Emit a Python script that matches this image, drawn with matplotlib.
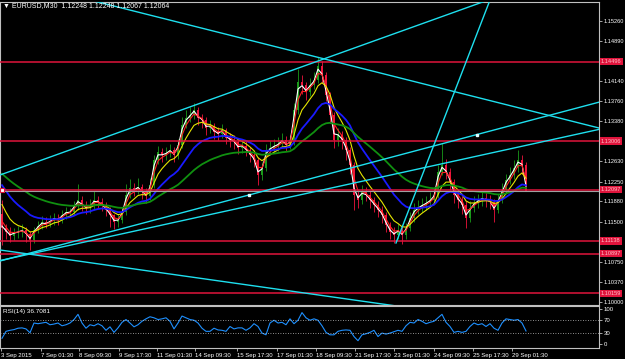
import numpy as np
import pandas as pd
import matplotlib
matplotlib.use('Agg')
import matplotlib.pyplot as plt
import matplotlib.transforms as mtransforms

first_open = 1.1165
closes = [
    1.1138, 1.1131, 1.1123, 1.1129, 1.1131, 1.1134, 1.1127, 1.1116, 1.1134, 1.1142,
    1.1149, 1.1146, 1.1151, 1.1157, 1.1153, 1.1162, 1.1168, 1.1168, 1.1179, 1.1190,
    1.1181, 1.1175, 1.1179, 1.1190, 1.1187, 1.1181, 1.1172, 1.1162, 1.1149, 1.1153,
    1.1168, 1.1200, 1.1213, 1.1209, 1.1215, 1.1205, 1.1198, 1.1218, 1.1265, 1.1280,
    1.1275, 1.1278, 1.1284, 1.1275, 1.1293, 1.1331, 1.1344, 1.1350, 1.1359, 1.1344,
    1.1340, 1.1325, 1.1329, 1.1318, 1.1314, 1.1321, 1.1307, 1.1303, 1.1299, 1.1288,
    1.1292, 1.1284, 1.1275, 1.1265, 1.1237, 1.1250, 1.1284, 1.1288, 1.1292, 1.1295,
    1.1303, 1.1293, 1.1299, 1.1359, 1.1411, 1.1406, 1.1393, 1.1406, 1.1415, 1.1441,
    1.1424, 1.1387, 1.1350, 1.1303, 1.1312, 1.1303, 1.1284, 1.1256, 1.1200, 1.1190,
    1.1205, 1.1200, 1.1190, 1.1181, 1.1172, 1.1162, 1.1144, 1.1131, 1.1125, 1.1134,
    1.1125, 1.1138, 1.1157, 1.1172, 1.1177, 1.1181, 1.1185, 1.1190, 1.1200, 1.1243,
    1.1256, 1.1243, 1.1224, 1.1200, 1.1190, 1.1181, 1.1157, 1.1175, 1.1185, 1.1190,
    1.1194, 1.1190, 1.1187, 1.1172, 1.1190, 1.1209, 1.1228, 1.1237, 1.1250, 1.1265,
    1.1256, 1.12064]
highs = [
    1.1190, 1.1145, 1.1140, 1.1138, 1.1142, 1.1146, 1.1140, 1.1132, 1.1140, 1.1152,
    1.1160, 1.1158, 1.1162, 1.1166, 1.1165, 1.1172, 1.1178, 1.1176, 1.1188, 1.1220,
    1.1198, 1.1188, 1.1192, 1.1208, 1.1198, 1.1195, 1.1186, 1.1178, 1.1165, 1.1164,
    1.1178, 1.1220, 1.1230, 1.1222, 1.1232, 1.1220, 1.1212, 1.1232, 1.1275, 1.1292,
    1.1288, 1.1290, 1.1296, 1.1290, 1.1305, 1.1345, 1.1358, 1.1365, 1.1372, 1.1364,
    1.1352, 1.1345, 1.1340, 1.1335, 1.1328, 1.1332, 1.1326, 1.1316, 1.1312, 1.1306,
    1.1304, 1.1300, 1.1290, 1.1282, 1.1270, 1.1262, 1.1295, 1.1300, 1.1305, 1.1308,
    1.1315, 1.1310, 1.1312, 1.1372, 1.1435, 1.1425, 1.1412, 1.1418, 1.1430, 1.1458,
    1.1450, 1.1430, 1.1392, 1.1355, 1.1325, 1.1320, 1.1308, 1.1290, 1.1262, 1.1210,
    1.1218, 1.1215, 1.1208, 1.1196, 1.1188, 1.1180, 1.1168, 1.1150, 1.1140, 1.1145,
    1.1142, 1.1148, 1.1168, 1.1185, 1.1190, 1.1195, 1.1198, 1.1205, 1.1215, 1.1255,
    1.1297, 1.1268, 1.1250, 1.1230, 1.1208, 1.1198, 1.1188, 1.1188, 1.1198, 1.1202,
    1.1206, 1.1204, 1.1200, 1.1192, 1.1202, 1.1222, 1.1240, 1.1252, 1.1265, 1.1284,
    1.1275, 1.1262]
lows = [
    1.1106, 1.1118, 1.1112, 1.1115, 1.1120, 1.1122, 1.1112, 1.1097, 1.1110, 1.1128,
    1.1136, 1.1138, 1.1140, 1.1144, 1.1143, 1.1148, 1.1155, 1.1158, 1.1162, 1.1172,
    1.1170, 1.1164, 1.1166, 1.1172, 1.1176, 1.1170, 1.1160, 1.1140, 1.1136, 1.1140,
    1.1148, 1.1162, 1.1195, 1.1198, 1.1202, 1.1192, 1.1185, 1.1190, 1.1212, 1.1258,
    1.1262, 1.1266, 1.1270, 1.1262, 1.1268, 1.1288, 1.1325, 1.1336, 1.1342, 1.1330,
    1.1326, 1.1312, 1.1316, 1.1305, 1.1302, 1.1306, 1.1295, 1.1290, 1.1286, 1.1276,
    1.1278, 1.1272, 1.1262, 1.1252, 1.1218, 1.1228, 1.1245, 1.1275, 1.1280, 1.1282,
    1.1290, 1.1282, 1.1285, 1.1294, 1.1352, 1.1388, 1.1378, 1.1385, 1.1398, 1.1410,
    1.1410, 1.1375, 1.1335, 1.1288, 1.1292, 1.1285, 1.1265, 1.1240, 1.1172, 1.1175,
    1.1182, 1.1188, 1.1176, 1.1168, 1.1158, 1.1148, 1.1130, 1.1118, 1.1110, 1.1118,
    1.1108, 1.1118, 1.1132, 1.1150, 1.1165, 1.1168, 1.1172, 1.1178, 1.1185, 1.1195,
    1.1238, 1.1230, 1.1210, 1.1185, 1.1175, 1.1165, 1.1138, 1.1150, 1.1168, 1.1176,
    1.1180, 1.1178, 1.1174, 1.1149, 1.1166, 1.1185, 1.1202, 1.1220, 1.1230, 1.1242,
    1.1240, 1.12067]
# closes before the visible window, only used to seed the moving averages
prior_closes = [1.1262, 1.1255, 1.1240, 1.1200, 1.1170, 1.1150]

# RSI(14)
rsi = [
    16, 36, 39, 41, 45, 46, 43, 32, 60, 58, 60, 62, 55, 57, 60, 52, 55, 60, 70, 85,
    60, 45, 55, 52, 58, 52, 39, 49, 33, 46, 62, 70, 60, 49, 55, 65, 72, 78, 75, 70,
    72, 75, 65, 43, 60, 80, 75, 70, 68, 60, 45, 36, 36, 45, 40, 39, 36, 50, 43, 46,
    46, 39, 46, 58, 50, 31, 26, 60, 68, 60, 62, 55, 72, 58, 68, 90, 75, 68, 72, 68,
    52, 33, 26, 26, 36, 39, 40, 39, 21, 9, 26, 29, 33, 39, 21, 31, 28, 31, 35, 39,
    36, 52, 62, 60, 70, 65, 58, 62, 65, 75, 85, 62, 50, 33, 36, 33, 36, 50, 60, 55,
    58, 50, 58, 45, 39, 60, 72, 70, 68, 70, 60, 37]

# moving averages (EMA spans in candle units of this chart)
ma_spans = [1.5, 2.5, 6, 15, 33]
ma_colors = ['#ffffff', '#ff2020', '#e6e600', '#1a1aff', '#109010']
ma_widths = [0.8, 0.8, 0.8, 1.3, 1.3]

# horizontal levels
levels = [1.14496, 1.13006, 1.12097, 1.11138, 1.10897, 1.10159]
bid = 1.12064

# trendlines: (x0, p0, x1, p1, extend_back)
trend_lines = [
    (22.0, 1.15648, 149.25, 1.13252, True),
    (-0.5, 1.12372, 79.0, 1.14506, True),
    (61.75, 1.11998, 118.75, 1.13130, True),
    (-0.5, 1.10770, 149.25, 1.13226, True),
    (-0.5, 1.10968, 93.25, 1.09976, True),
    (98.5, 1.11099, 122.0, 1.15648, False),
]
anchor_pts = [(61.75, 1.11998), (118.75, 1.13130)]

price_ticks = [1.10000, 1.10370, 1.10750, 1.11500, 1.11880, 1.12250, 1.12630,
               1.13380, 1.13760, 1.14140, 1.14890, 1.15260]
time_labels = ['3 Sep 2015', '7 Sep 01:30', '8 Sep 09:30', '9 Sep 17:30',
               '11 Sep 01:30', '14 Sep 09:30', '15 Sep 17:30', '17 Sep 01:30',
               '18 Sep 09:30', '21 Sep 17:30', '23 Sep 01:30', '24 Sep 09:30',
               '25 Sep 17:30', '29 Sep 01:30']
time_pos = [-0.25, 9.75, 19.25, 29.25, 38.75, 48.25, 58.75, 68.75, 78.5,
            88.25, 98.0, 108.0, 117.75, 127.5]

header = '\u25bc EURUSD,M30  1.12248 1.12248 1.12067 1.12064'

bull = '#1a9a1a'
bear = '#f0143c'
cyan = '#1ee0ef'
lvl_red = '#e0143c'
frame = '#c0c0c0'
font = 'Liberation Sans'

closes = np.array(closes)
highs = np.array(highs)
lows = np.array(lows)
opens = np.concatenate([[first_open], closes[:-1]])
n = len(closes)
x = np.arange(n)

fig = plt.figure(figsize=(6.25, 3.59), dpi=100, facecolor='black')
ax = fig.add_axes([0, 54 / 359, 599 / 625, 303 / 359], facecolor='black')
ax_r = fig.add_axes([0, 11 / 359, 599 / 625, 42 / 359], facecolor='black')

xlim = (-0.5, 149.25)

# candles
up = closes >= opens
cols = np.where(up, bull, bear)
ax.vlines(x, lows, highs, colors=cols, lw=0.6, zorder=2)
ax.bar(x, np.maximum(np.abs(closes - opens), 0.00004),
       bottom=np.minimum(opens, closes), width=0.6, color=cols,
       linewidth=0, zorder=2)

# moving averages
full = pd.Series(list(prior_closes) + list(closes))
for span, c, lw in zip(ma_spans, ma_colors, ma_widths):
    ma = full.ewm(span=span, adjust=False).mean().iloc[len(prior_closes):]
    ax.plot(x, ma.values, color=c, lw=lw, zorder=3)

# objects
for p in levels:
    ax.axhline(p, color=lvl_red, lw=1.1, zorder=4)
ax.axhline(bid, color='#a0a0a0', lw=0.8, zorder=4)
ax.plot([-0.1], [levels[2]], marker='s', ms=2.5, mfc='white', mec=lvl_red,
        mew=0.8, zorder=5, clip_on=False)

for x0, p0, x1, p1, back in trend_lines:
    slope = (p1 - p0) / (x1 - x0)
    xa = -10 if back else x0
    xb = 170
    ax.plot([xa, xb], [p0 + slope * (xa - x0), p0 + slope * (xb - x0)],
            color=cyan, lw=1.0, zorder=4)
for xp, pp in anchor_pts:
    ax.plot([xp], [pp], marker='s', ms=1.8, color='#e0ffff', zorder=5)

ax.set_xlim(*xlim)
ax.set_ylim(1.09938, 1.15611)
ax.yaxis.tick_right()
ax.set_yticks(price_ticks)
ax.set_yticklabels(['%.5f' % t for t in price_ticks])
ax.set_xticks([])
ax.tick_params(axis='y', colors=frame, labelcolor='white', length=2,
               width=0.6, pad=1.0, labelsize=4.1)
for lab in ax.get_yticklabels():
    lab.set_fontfamily(font)
for s in ax.spines.values():
    s.set_color(frame)
    s.set_linewidth(0.8)

# price labels of the levels on the axis
trans = mtransforms.blended_transform_factory(ax.transAxes, ax.transData)
for p in levels:
    ax.text(1.003, p, '%.5f' % p, transform=trans, ha='left', va='center',
            fontsize=4.1, family=font, color='#ffc0c8', clip_on=False,
            bbox=dict(boxstyle='square,pad=0.2', fc=lvl_red, ec='none'))

fig.text(0.005, 1 - 6 / 359, header, fontsize=5, family=font, color='white',
         va='center', ha='left')

# RSI panel
ax_r.plot(x, rsi, color='#1e90ff', lw=0.8)
for lv in (30, 70):
    ax_r.axhline(lv, color=frame, lw=0.6, ls=(0, (1, 2)))
ax_r.set_xlim(*xlim)
ax_r.set_ylim(-12, 109)
ax_r.yaxis.tick_right()
ax_r.set_yticks([0, 30, 70, 100])
ax_r.set_yticklabels(['0', '30', '70', '100'])
ax_r.set_xticks(time_pos)
ax_r.set_xticklabels(time_labels, ha='left')
ax_r.tick_params(colors=frame, labelcolor='white', length=2, width=0.6,
                 pad=1.5, labelsize=4.3)
for lab in ax_r.get_xticklabels() + ax_r.get_yticklabels():
    lab.set_fontfamily(font)
for s in ax_r.spines.values():
    s.set_color(frame)
    s.set_linewidth(0.8)
ax_r.text(0.005, 0.86, 'RSI(14) 36.7081', transform=ax_r.transAxes,
          fontsize=4.6, family=font, color='white', va='center')

fig.savefig('out.png', dpi=100, facecolor='black')
